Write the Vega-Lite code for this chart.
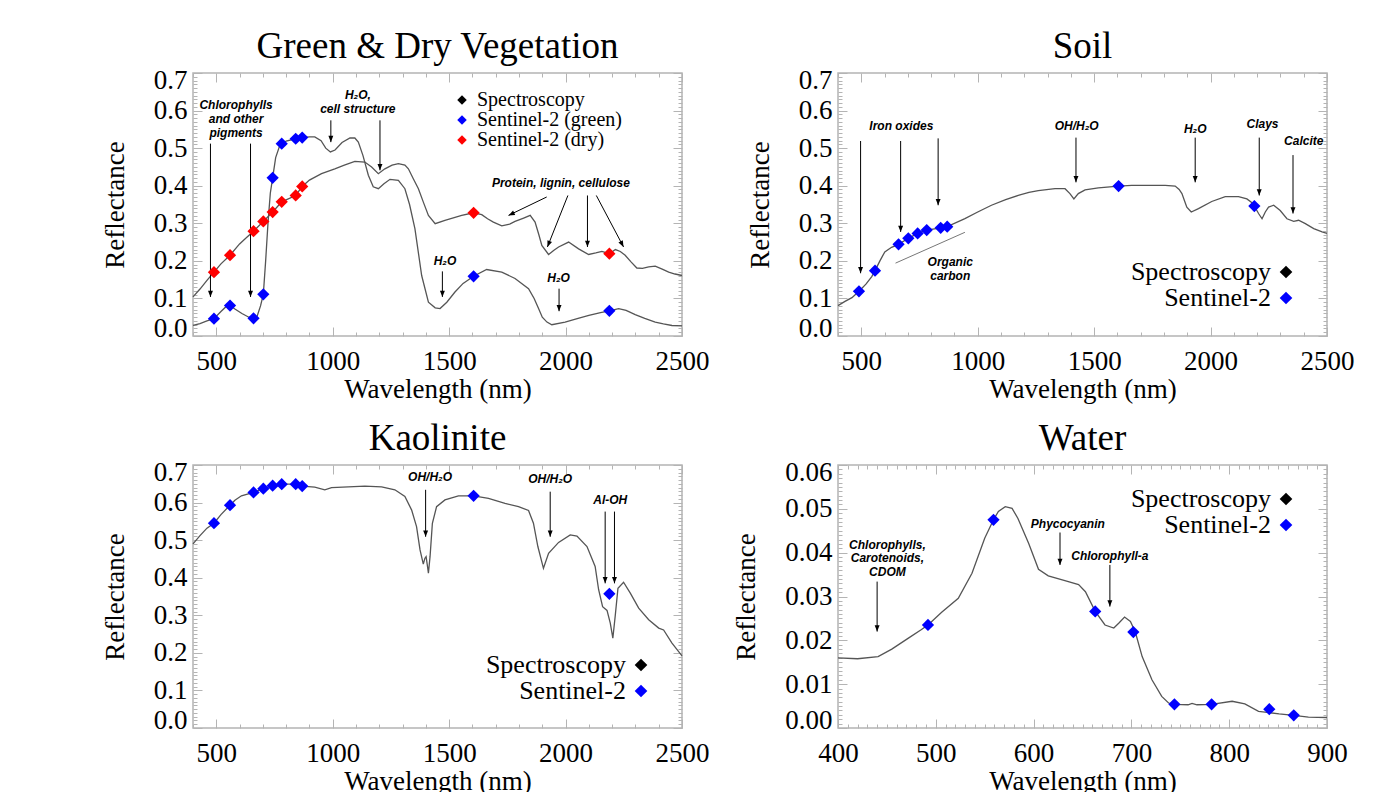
{
"$schema": "https://vega.github.io/schema/vega-lite/v6.json",
"background": "white",
"padding": {"left": 100, "top": 27, "right": 5, "bottom": 5},
"columns": 2,
"spacing": {"row": 129, "column": 156},
"bounds": "flush",
"resolve": {"scale": {"color": "independent", "x": "independent", "y": "independent"}, "legend": {"color": "independent"}},
"config": {
  "font": "Liberation Serif",
  "view": {"stroke": "#b4b4b4", "strokeWidth": 1.5},
  "style": {"guide-label": {"font": "Liberation Serif", "fill": "#000000"}, "guide-title": {"font": "Liberation Serif", "fill": "#000000", "fontWeight": "normal"}},
  "axis": {"domain": false, "grid": false, "labelFont": "Liberation Serif", "labelFontSize": 27, "labelColor": "#000000", "titleFont": "Liberation Serif", "titleFontSize": 27, "titleFontWeight": "normal", "titleColor": "#000000", "tickColor": "#b4b4b4", "tickWidth": 1, "labelOverlap": false, "labelBound": false},
  "title": {"font": "Liberation Serif", "fontSize": 37, "fontWeight": "normal", "color": "#000000", "anchor": "middle", "offset": -3},
  "legend": {"labelFont": "Liberation Serif", "labelColor": "#000000", "symbolType": "diamond", "symbolStrokeWidth": 0, "labelLimit": 400, "padding": 0, "title": null}
},
"datasets": {
  "veg_line": [
    {"wl":400,"r":0.028,"series":"green"},{"wl":430,"r":0.033,"series":"green"},{"wl":460,"r":0.040,"series":"green"},{"wl":490,"r":0.046,"series":"green"},{"wl":520,"r":0.065,"series":"green"},{"wl":545,"r":0.080,"series":"green"},{"wl":559,"r":0.081,"series":"green"},{"wl":580,"r":0.072,"series":"green"},{"wl":610,"r":0.060,"series":"green"},{"wl":640,"r":0.050,"series":"green"},{"wl":660,"r":0.047,"series":"green"},{"wl":675,"r":0.052,"series":"green"},{"wl":690,"r":0.080,"series":"green"},{"wl":702,"r":0.111,"series":"green"},{"wl":712,"r":0.200,"series":"green"},{"wl":722,"r":0.300,"series":"green"},{"wl":732,"r":0.380,"series":"green"},{"wl":742,"r":0.421,"series":"green"},{"wl":755,"r":0.475,"series":"green"},{"wl":770,"r":0.502,"series":"green"},{"wl":781,"r":0.512,"series":"green"},{"wl":800,"r":0.519,"series":"green"},{"wl":841,"r":0.525,"series":"green"},{"wl":869,"r":0.528,"series":"green"},{"wl":900,"r":0.530,"series":"green"},{"wl":923,"r":0.530,"series":"green"},{"wl":950,"r":0.520,"series":"green"},{"wl":970,"r":0.500,"series":"green"},{"wl":990,"r":0.490,"series":"green"},{"wl":1010,"r":0.495,"series":"green"},{"wl":1040,"r":0.515,"series":"green"},{"wl":1074,"r":0.527,"series":"green"},{"wl":1095,"r":0.527,"series":"green"},{"wl":1110,"r":0.516,"series":"green"},{"wl":1130,"r":0.480,"series":"green"},{"wl":1153,"r":0.428,"series":"green"},{"wl":1174,"r":0.397,"series":"green"},{"wl":1196,"r":0.392,"series":"green"},{"wl":1220,"r":0.405,"series":"green"},{"wl":1246,"r":0.417,"series":"green"},{"wl":1282,"r":0.414,"series":"green"},{"wl":1310,"r":0.392,"series":"green"},{"wl":1330,"r":0.350,"series":"green"},{"wl":1353,"r":0.286,"series":"green"},{"wl":1382,"r":0.161,"series":"green"},{"wl":1411,"r":0.090,"series":"green"},{"wl":1440,"r":0.075,"series":"green"},{"wl":1461,"r":0.073,"series":"green"},{"wl":1490,"r":0.090,"series":"green"},{"wl":1525,"r":0.117,"series":"green"},{"wl":1560,"r":0.140,"series":"green"},{"wl":1605,"r":0.159,"series":"green"},{"wl":1661,"r":0.177,"series":"green"},{"wl":1726,"r":0.170,"series":"green"},{"wl":1783,"r":0.153,"series":"green"},{"wl":1841,"r":0.126,"series":"green"},{"wl":1865,"r":0.100,"series":"green"},{"wl":1884,"r":0.073,"series":"green"},{"wl":1900,"r":0.050,"series":"green"},{"wl":1920,"r":0.037,"series":"green"},{"wl":1941,"r":0.030,"series":"green"},{"wl":1998,"r":0.037,"series":"green"},{"wl":2050,"r":0.046,"series":"green"},{"wl":2100,"r":0.055,"series":"green"},{"wl":2150,"r":0.062,"series":"green"},{"wl":2188,"r":0.067,"series":"green"},{"wl":2228,"r":0.073,"series":"green"},{"wl":2260,"r":0.068,"series":"green"},{"wl":2299,"r":0.057,"series":"green"},{"wl":2340,"r":0.047,"series":"green"},{"wl":2385,"r":0.037,"series":"green"},{"wl":2420,"r":0.032,"series":"green"},{"wl":2457,"r":0.028,"series":"green"},{"wl":2500,"r":0.027,"series":"green"},
    {"wl":400,"r":0.104,"series":"dry"},{"wl":430,"r":0.125,"series":"dry"},{"wl":460,"r":0.148,"series":"dry"},{"wl":490,"r":0.170,"series":"dry"},{"wl":520,"r":0.192,"series":"dry"},{"wl":559,"r":0.215,"series":"dry"},{"wl":600,"r":0.245,"series":"dry"},{"wl":630,"r":0.262,"series":"dry"},{"wl":660,"r":0.279,"series":"dry"},{"wl":702,"r":0.305,"series":"dry"},{"wl":742,"r":0.330,"series":"dry"},{"wl":781,"r":0.357,"series":"dry"},{"wl":841,"r":0.374,"series":"dry"},{"wl":869,"r":0.398,"series":"dry"},{"wl":900,"r":0.415,"series":"dry"},{"wl":952,"r":0.432,"series":"dry"},{"wl":1009,"r":0.445,"series":"dry"},{"wl":1050,"r":0.455,"series":"dry"},{"wl":1095,"r":0.465,"series":"dry"},{"wl":1138,"r":0.463,"series":"dry"},{"wl":1167,"r":0.450,"series":"dry"},{"wl":1196,"r":0.432,"series":"dry"},{"wl":1224,"r":0.445,"series":"dry"},{"wl":1255,"r":0.455,"series":"dry"},{"wl":1282,"r":0.459,"series":"dry"},{"wl":1310,"r":0.455,"series":"dry"},{"wl":1325,"r":0.445,"series":"dry"},{"wl":1345,"r":0.420,"series":"dry"},{"wl":1368,"r":0.392,"series":"dry"},{"wl":1390,"r":0.355,"series":"dry"},{"wl":1411,"r":0.321,"series":"dry"},{"wl":1440,"r":0.299,"series":"dry"},{"wl":1482,"r":0.308,"series":"dry"},{"wl":1554,"r":0.321,"series":"dry"},{"wl":1605,"r":0.328,"series":"dry"},{"wl":1640,"r":0.323,"series":"dry"},{"wl":1665,"r":0.312,"series":"dry"},{"wl":1690,"r":0.303,"series":"dry"},{"wl":1726,"r":0.293,"series":"dry"},{"wl":1760,"r":0.298,"series":"dry"},{"wl":1783,"r":0.305,"series":"dry"},{"wl":1820,"r":0.314,"series":"dry"},{"wl":1848,"r":0.321,"series":"dry"},{"wl":1869,"r":0.303,"series":"dry"},{"wl":1885,"r":0.270,"series":"dry"},{"wl":1898,"r":0.241,"series":"dry"},{"wl":1927,"r":0.217,"series":"dry"},{"wl":1950,"r":0.228,"series":"dry"},{"wl":1970,"r":0.237,"series":"dry"},{"wl":2013,"r":0.250,"series":"dry"},{"wl":2056,"r":0.232,"series":"dry"},{"wl":2099,"r":0.217,"series":"dry"},{"wl":2130,"r":0.221,"series":"dry"},{"wl":2156,"r":0.225,"series":"dry"},{"wl":2188,"r":0.219,"series":"dry"},{"wl":2214,"r":0.230,"series":"dry"},{"wl":2235,"r":0.225,"series":"dry"},{"wl":2256,"r":0.215,"series":"dry"},{"wl":2280,"r":0.198,"series":"dry"},{"wl":2306,"r":0.181,"series":"dry"},{"wl":2330,"r":0.180,"series":"dry"},{"wl":2357,"r":0.184,"series":"dry"},{"wl":2385,"r":0.186,"series":"dry"},{"wl":2415,"r":0.178,"series":"dry"},{"wl":2443,"r":0.170,"series":"dry"},{"wl":2470,"r":0.165,"series":"dry"},{"wl":2500,"r":0.161,"series":"dry"}
  ],
  "veg_pts": [
    {"wl":490,"r":0.046,"series":"Sentinel-2 (green)"},{"wl":559,"r":0.081,"series":"Sentinel-2 (green)"},{"wl":660,"r":0.047,"series":"Sentinel-2 (green)"},{"wl":702,"r":0.111,"series":"Sentinel-2 (green)"},{"wl":742,"r":0.421,"series":"Sentinel-2 (green)"},{"wl":781,"r":0.512,"series":"Sentinel-2 (green)"},{"wl":841,"r":0.525,"series":"Sentinel-2 (green)"},{"wl":869,"r":0.528,"series":"Sentinel-2 (green)"},{"wl":1605,"r":0.159,"series":"Sentinel-2 (green)"},{"wl":2188,"r":0.067,"series":"Sentinel-2 (green)"},
    {"wl":490,"r":0.170,"series":"Sentinel-2 (dry)"},{"wl":559,"r":0.215,"series":"Sentinel-2 (dry)"},{"wl":660,"r":0.279,"series":"Sentinel-2 (dry)"},{"wl":702,"r":0.305,"series":"Sentinel-2 (dry)"},{"wl":742,"r":0.330,"series":"Sentinel-2 (dry)"},{"wl":781,"r":0.357,"series":"Sentinel-2 (dry)"},{"wl":841,"r":0.374,"series":"Sentinel-2 (dry)"},{"wl":869,"r":0.398,"series":"Sentinel-2 (dry)"},{"wl":1605,"r":0.328,"series":"Sentinel-2 (dry)"},{"wl":2188,"r":0.219,"series":"Sentinel-2 (dry)"}
  ],
  "veg_arrows": [
    {"x":475,"y":0.512,"x2":475,"y2":0.104},{"x":647,"y":0.512,"x2":647,"y2":0.104},{"x":992,"y":0.574,"x2":992,"y2":0.516},{"x":1203,"y":0.574,"x2":1203,"y2":0.441},{"x":1919,"y":0.370,"x2":1755,"y2":0.321},{"x":2010,"y":0.374,"x2":1922,"y2":0.237},{"x":2094,"y":0.374,"x2":2094,"y2":0.237},{"x":2132,"y":0.374,"x2":2249,"y2":0.237},{"x":1471,"y":0.172,"x2":1471,"y2":0.104},{"x":1972,"y":0.126,"x2":1972,"y2":0.066}
  ],
  "veg_text": [
    {"x":585,"y":0.615,"label":["Chlorophylls","and other","pigments"]},{"x":1108,"y":0.641,"label":["H₂O,","cell structure"]},{"x":1980,"y":0.407,"label":"Protein, lignin, cellulose"},{"x":1482,"y":0.200,"label":"H₂O"},{"x":1970,"y":0.154,"label":"H₂O"}
  ],
  "soil_line": [
    {"wl":400,"r":0.081},{"wl":430,"r":0.092},{"wl":460,"r":0.102},{"wl":490,"r":0.119},{"wl":520,"r":0.138},{"wl":545,"r":0.158},{"wl":559,"r":0.174},{"wl":580,"r":0.200},{"wl":601,"r":0.224},{"wl":630,"r":0.236},{"wl":660,"r":0.244},{"wl":702,"r":0.260},{"wl":742,"r":0.273},{"wl":781,"r":0.282},{"wl":841,"r":0.288},{"wl":869,"r":0.291},{"wl":945,"r":0.3125},{"wl":1000,"r":0.330},{"wl":1059,"r":0.348},{"wl":1120,"r":0.363},{"wl":1174,"r":0.374},{"wl":1220,"r":0.382},{"wl":1260,"r":0.387},{"wl":1332,"r":0.392},{"wl":1375,"r":0.392},{"wl":1396,"r":0.379},{"wl":1413,"r":0.365},{"wl":1432,"r":0.379},{"wl":1461,"r":0.389},{"wl":1518,"r":0.394},{"wl":1605,"r":0.399},{"wl":1661,"r":0.401},{"wl":1750,"r":0.401},{"wl":1805,"r":0.401},{"wl":1848,"r":0.399},{"wl":1865,"r":0.390},{"wl":1877,"r":0.379},{"wl":1888,"r":0.360},{"wl":1898,"r":0.343},{"wl":1917,"r":0.330},{"wl":1948,"r":0.339},{"wl":2005,"r":0.358},{"wl":2063,"r":0.371},{"wl":2120,"r":0.371},{"wl":2156,"r":0.365},{"wl":2175,"r":0.356},{"wl":2188,"r":0.346},{"wl":2206,"r":0.326},{"wl":2221,"r":0.312},{"wl":2235,"r":0.330},{"wl":2249,"r":0.343},{"wl":2271,"r":0.348},{"wl":2299,"r":0.334},{"wl":2328,"r":0.312},{"wl":2357,"r":0.305},{"wl":2378,"r":0.308},{"wl":2407,"r":0.299},{"wl":2443,"r":0.286},{"wl":2479,"r":0.277},{"wl":2500,"r":0.273}
  ],
  "soil_pts": [
    {"wl":490,"r":0.119,"series":"Sentinel-2"},{"wl":559,"r":0.174,"series":"Sentinel-2"},{"wl":660,"r":0.244,"series":"Sentinel-2"},{"wl":702,"r":0.260,"series":"Sentinel-2"},{"wl":742,"r":0.273,"series":"Sentinel-2"},{"wl":781,"r":0.282,"series":"Sentinel-2"},{"wl":841,"r":0.288,"series":"Sentinel-2"},{"wl":869,"r":0.291,"series":"Sentinel-2"},{"wl":1605,"r":0.399,"series":"Sentinel-2"},{"wl":2188,"r":0.346,"series":"Sentinel-2"}
  ],
  "soil_arrows": [
    {"x":497,"y":0.519,"x2":497,"y2":0.167},{"x":669,"y":0.519,"x2":669,"y2":0.277},{"x":830,"y":0.526,"x2":830,"y2":0.348},{"x":1422,"y":0.528,"x2":1422,"y2":0.409},{"x":1934,"y":0.528,"x2":1934,"y2":0.409},{"x":2209,"y":0.528,"x2":2209,"y2":0.374},{"x":2354,"y":0.4815,"x2":2354,"y2":0.326}
  ],
  "soil_rule": [{"x":647,"y":0.194,"x2":945,"y2":0.276}],
  "soil_text": [
    {"x":672,"y":0.559,"label":"Iron oxides"},{"x":882,"y":0.198,"label":["Organic","carbon"]},{"x":1425,"y":0.559,"label":"OH/H₂O"},{"x":1934,"y":0.552,"label":"H₂O"},{"x":2223,"y":0.565,"label":"Clays"},{"x":2400,"y":0.518,"label":"Calcite"}
  ],
  "kao_line": [
    {"wl":400,"r":0.490},{"wl":430,"r":0.512},{"wl":460,"r":0.532},{"wl":490,"r":0.545},{"wl":520,"r":0.568},{"wl":559,"r":0.593},{"wl":580,"r":0.606},{"wl":608,"r":0.618},{"wl":660,"r":0.627},{"wl":702,"r":0.637},{"wl":742,"r":0.645},{"wl":781,"r":0.649},{"wl":841,"r":0.649},{"wl":869,"r":0.644},{"wl":923,"r":0.641},{"wl":966,"r":0.634},{"wl":995,"r":0.640},{"wl":1067,"r":0.642},{"wl":1138,"r":0.644},{"wl":1210,"r":0.642},{"wl":1267,"r":0.634},{"wl":1310,"r":0.616},{"wl":1339,"r":0.580},{"wl":1360,"r":0.536},{"wl":1375,"r":0.474},{"wl":1389,"r":0.436},{"wl":1396,"r":0.452},{"wl":1401,"r":0.456},{"wl":1406,"r":0.435},{"wl":1411,"r":0.412},{"wl":1418,"r":0.456},{"wl":1428,"r":0.545},{"wl":1446,"r":0.589},{"wl":1482,"r":0.607},{"wl":1540,"r":0.618},{"wl":1605,"r":0.618},{"wl":1669,"r":0.611},{"wl":1740,"r":0.598},{"wl":1798,"r":0.589},{"wl":1841,"r":0.579},{"wl":1862,"r":0.545},{"wl":1881,"r":0.483},{"wl":1905,"r":0.425},{"wl":1927,"r":0.465},{"wl":1970,"r":0.494},{"wl":2020,"r":0.514},{"wl":2049,"r":0.511},{"wl":2092,"r":0.483},{"wl":2127,"r":0.430},{"wl":2142,"r":0.368},{"wl":2159,"r":0.323},{"wl":2178,"r":0.313},{"wl":2192,"r":0.279},{"wl":2203,"r":0.239},{"wl":2213,"r":0.297},{"wl":2225,"r":0.372},{"wl":2249,"r":0.388},{"wl":2278,"r":0.359},{"wl":2314,"r":0.319},{"wl":2357,"r":0.288},{"wl":2400,"r":0.266},{"wl":2421,"r":0.261},{"wl":2457,"r":0.226},{"wl":2500,"r":0.192}
  ],
  "kao_pts": [
    {"wl":490,"r":0.545,"series":"Sentinel-2"},{"wl":559,"r":0.593,"series":"Sentinel-2"},{"wl":660,"r":0.627,"series":"Sentinel-2"},{"wl":702,"r":0.637,"series":"Sentinel-2"},{"wl":742,"r":0.645,"series":"Sentinel-2"},{"wl":781,"r":0.649,"series":"Sentinel-2"},{"wl":841,"r":0.649,"series":"Sentinel-2"},{"wl":869,"r":0.644,"series":"Sentinel-2"},{"wl":1605,"r":0.618,"series":"Sentinel-2"},{"wl":2188,"r":0.357,"series":"Sentinel-2"}
  ],
  "kao_arrows": [
    {"x":1399,"y":0.634,"x2":1399,"y2":0.509},{"x":1934,"y":0.629,"x2":1934,"y2":0.509},{"x":2170,"y":0.576,"x2":2170,"y2":0.385},{"x":2210,"y":0.576,"x2":2210,"y2":0.385}
  ],
  "kao_text": [
    {"x":1418,"y":0.667,"label":"OH/H₂O"},{"x":1934,"y":0.662,"label":"OH/H₂O"},{"x":2192,"y":0.607,"label":"Al-OH"}
  ],
  "wat_line": [
    {"wl":400,"r":0.0160},{"wl":420,"r":0.0158},{"wl":441,"r":0.0163},{"wl":455,"r":0.0180},{"wl":472,"r":0.0205},{"wl":485,"r":0.0224},{"wl":492,"r":0.0235},{"wl":506,"r":0.0264},{"wl":523,"r":0.0296},{"wl":537,"r":0.0353},{"wl":550,"r":0.0433},{"wl":559,"r":0.0475},{"wl":564,"r":0.0494},{"wl":571,"r":0.0505},{"wl":578,"r":0.0501},{"wl":584,"r":0.0478},{"wl":595,"r":0.0421},{"wl":605,"r":0.0362},{"wl":615,"r":0.0347},{"wl":632,"r":0.0336},{"wl":646,"r":0.0327},{"wl":653,"r":0.0311},{"wl":663,"r":0.0266},{"wl":673,"r":0.0235},{"wl":682,"r":0.0228},{"wl":687,"r":0.0239},{"wl":693,"r":0.0253},{"wl":699,"r":0.0243},{"wl":704,"r":0.0219},{"wl":711,"r":0.0163},{"wl":721,"r":0.0110},{"wl":731,"r":0.0072},{"wl":738,"r":0.0057},{"wl":745,"r":0.0054},{"wl":758,"r":0.0053},{"wl":762,"r":0.0056},{"wl":767,"r":0.0053},{"wl":782,"r":0.0054},{"wl":803,"r":0.0061},{"wl":816,"r":0.0055},{"wl":830,"r":0.0038},{"wl":841,"r":0.0035},{"wl":851,"r":0.0032},{"wl":866,"r":0.0029},{"wl":881,"r":0.0025},{"wl":900,"r":0.0024}
  ],
  "wat_pts": [
    {"wl":492,"r":0.0235,"series":"Sentinel-2"},{"wl":559,"r":0.0475,"series":"Sentinel-2"},{"wl":663,"r":0.0266,"series":"Sentinel-2"},{"wl":702,"r":0.0219,"series":"Sentinel-2"},{"wl":744,"r":0.0054,"series":"Sentinel-2"},{"wl":782,"r":0.0054,"series":"Sentinel-2"},{"wl":841,"r":0.0043,"series":"Sentinel-2"},{"wl":866,"r":0.0029,"series":"Sentinel-2"}
  ],
  "wat_arrows": [
    {"x":440,"y":0.0334,"x2":440,"y2":0.0220},{"x":627,"y":0.0446,"x2":627,"y2":0.0372},{"x":678,"y":0.0372,"x2":678,"y2":0.0277}
  ],
  "wat_text": [
    {"x":450.5,"y":0.0418,"label":["Chlorophylls,","Carotenoids,","CDOM"]},{"x":635,"y":0.0466,"label":"Phycocyanin"},{"x":678,"y":0.0393,"label":"Chlorophyll-a"}
  ]
},
"concat": [
{
  "title": {"text": "Green & Dry Vegetation"},
  "width": 489, "height": 263,
  "resolve": {"axis": {"x": "independent", "y": "independent"}},
  "layer": [
    {"data": {"name": "veg_line"}, "mark": {"type": "line", "color": "#555555", "strokeWidth": 1.3},
     "encoding": {
       "x": {"field": "wl", "type": "quantitative", "scale": {"domain": [400, 2500], "nice": false, "zero": false},
             "axis": {"orient": "bottom", "title": "Wavelength (nm)", "labelFont": "Liberation Serif", "titleFont": "Liberation Serif", "labelFontSize": 27, "titleFontSize": 27, "values": [400,500,600,700,800,900,1000,1100,1200,1300,1400,1500,1600,1700,1800,1900,2000,2100,2200,2300,2400,2500], "format": "d", "labelExpr": "datum.value % 500 === 0 ? datum.label : ''", "tickSize": {"condition": {"test": "datum.value % 500 === 0", "value": -9}, "value": -4}, "labelPadding": 21, "titlePadding": -3, "labelFlush": false}},
       "y": {"field": "r", "type": "quantitative", "scale": {"domain": [0, 0.7], "nice": false, "zero": false},
             "axis": {"orient": "left", "title": "Reflectance", "labelFont": "Liberation Serif", "titleFont": "Liberation Serif", "labelFontSize": 27, "titleFontSize": 27, "values": [0,0.01,0.02,0.03,0.04,0.05,0.06,0.07,0.08,0.09,0.1,0.11,0.12,0.13,0.14,0.15,0.16,0.17,0.18,0.19,0.2,0.21,0.22,0.23,0.24,0.25,0.26,0.27,0.28,0.29,0.3,0.31,0.32,0.33,0.34,0.35,0.36,0.37,0.38,0.39,0.4,0.41,0.42,0.43,0.44,0.45,0.46,0.47,0.48,0.49,0.5,0.51,0.52,0.53,0.54,0.55,0.56,0.57,0.58,0.59,0.6,0.61,0.62,0.63,0.64,0.65,0.66,0.67,0.68,0.69,0.7], "format": ".1f", "labelExpr": "abs(datum.value*10 - round(datum.value*10)) < 0.001 ? datum.label : ''", "tickSize": {"condition": {"test": "abs(datum.value*10 - round(datum.value*10)) < 0.001", "value": -9}, "value": -4}, "labelPadding": 15, "labelFlush": true, "labelFlushOffset": 6, "titlePadding": 24}},
       "detail": {"field": "series"}
     }},
    {"data": {"name": "veg_line"}, "mark": {"type": "point", "opacity": 0},
     "encoding": {
       "x": {"field": "wl", "type": "quantitative", "axis": {"orient": "top", "title": null, "labels": false, "values": [400,500,600,700,800,900,1000,1100,1200,1300,1400,1500,1600,1700,1800,1900,2000,2100,2200,2300,2400,2500], "tickSize": {"condition": {"test": "datum.value % 500 === 0", "value": -9}, "value": -4}}},
       "y": {"field": "r", "type": "quantitative", "axis": {"orient": "right", "title": null, "labels": false, "values": [0,0.01,0.02,0.03,0.04,0.05,0.06,0.07,0.08,0.09,0.1,0.11,0.12,0.13,0.14,0.15,0.16,0.17,0.18,0.19,0.2,0.21,0.22,0.23,0.24,0.25,0.26,0.27,0.28,0.29,0.3,0.31,0.32,0.33,0.34,0.35,0.36,0.37,0.38,0.39,0.4,0.41,0.42,0.43,0.44,0.45,0.46,0.47,0.48,0.49,0.5,0.51,0.52,0.53,0.54,0.55,0.56,0.57,0.58,0.59,0.6,0.61,0.62,0.63,0.64,0.65,0.66,0.67,0.68,0.69,0.7], "tickSize": {"condition": {"test": "abs(datum.value*10 - round(datum.value*10)) < 0.001", "value": -9}, "value": -4}}}
     }},
    {"data": {"name": "veg_arrows"}, "mark": {"type": "rule", "color": "#000000", "strokeWidth": 1},
     "encoding": {"x": {"field": "x", "type": "quantitative", "axis": null}, "y": {"field": "y", "type": "quantitative", "axis": null}, "x2": {"field": "x2"}, "y2": {"field": "y2"}}},
    {"data": {"name": "veg_arrows"}, "transform": [{"calculate": "atan2((datum.x2-datum.x)*0.2329, (datum.y2-datum.y)*375.7)*180/PI", "as": "ang"}],
     "mark": {"type": "point", "shape": "M0,0L-0.55,1.4L0.55,1.4Z", "filled": true, "color": "#000000", "size": 80, "opacity": 1},
     "encoding": {"x": {"field": "x2", "type": "quantitative", "axis": null}, "y": {"field": "y2", "type": "quantitative", "axis": null}, "angle": {"field": "ang", "type": "quantitative", "scale": null}}},
    {"data": {"name": "veg_text"}, "mark": {"type": "text", "font": "Liberation Sans", "fontSize": 12, "fontWeight": "bold", "fontStyle": "italic", "lineHeight": 14, "baseline": "middle", "align": "center", "color": "#000000"},
     "encoding": {"x": {"field": "x", "type": "quantitative", "axis": null}, "y": {"field": "y", "type": "quantitative", "axis": null}, "text": {"field": "label"}}},
    {"data": {"name": "veg_pts"}, "mark": {"type": "point", "shape": "diamond", "filled": true, "size": 150, "opacity": 1},
     "encoding": {"x": {"field": "wl", "type": "quantitative", "axis": null}, "y": {"field": "r", "type": "quantitative", "axis": null},
       "color": {"field": "series", "type": "nominal", "scale": {"domain": ["Spectroscopy", "Sentinel-2 (green)", "Sentinel-2 (dry)"], "range": ["#000000", "#0000ff", "#ff0000"]},
                 "legend": {"orient": "none", "legendX": 259, "legendY": 17, "symbolSize": 90, "labelFont": "Liberation Serif", "labelFontSize": 20, "labelOffset": 5, "rowPadding": 0, "symbolType": "diamond"}}}}
  ]
},
{
  "title": {"text": "Soil"},
  "width": 489, "height": 263,
  "resolve": {"axis": {"x": "independent", "y": "independent"}},
  "layer": [
    {"data": {"name": "soil_line"}, "mark": {"type": "line", "color": "#555555", "strokeWidth": 1.3},
     "encoding": {
       "x": {"field": "wl", "type": "quantitative", "scale": {"domain": [400, 2500], "nice": false, "zero": false},
             "axis": {"orient": "bottom", "title": "Wavelength (nm)", "labelFont": "Liberation Serif", "titleFont": "Liberation Serif", "labelFontSize": 27, "titleFontSize": 27, "values": [400,500,600,700,800,900,1000,1100,1200,1300,1400,1500,1600,1700,1800,1900,2000,2100,2200,2300,2400,2500], "format": "d", "labelExpr": "datum.value % 500 === 0 ? datum.label : ''", "tickSize": {"condition": {"test": "datum.value % 500 === 0", "value": -9}, "value": -4}, "labelPadding": 21, "titlePadding": -3, "labelFlush": false}},
       "y": {"field": "r", "type": "quantitative", "scale": {"domain": [0, 0.7], "nice": false, "zero": false},
             "axis": {"orient": "left", "title": "Reflectance", "labelFont": "Liberation Serif", "titleFont": "Liberation Serif", "labelFontSize": 27, "titleFontSize": 27, "values": [0,0.01,0.02,0.03,0.04,0.05,0.06,0.07,0.08,0.09,0.1,0.11,0.12,0.13,0.14,0.15,0.16,0.17,0.18,0.19,0.2,0.21,0.22,0.23,0.24,0.25,0.26,0.27,0.28,0.29,0.3,0.31,0.32,0.33,0.34,0.35,0.36,0.37,0.38,0.39,0.4,0.41,0.42,0.43,0.44,0.45,0.46,0.47,0.48,0.49,0.5,0.51,0.52,0.53,0.54,0.55,0.56,0.57,0.58,0.59,0.6,0.61,0.62,0.63,0.64,0.65,0.66,0.67,0.68,0.69,0.7], "format": ".1f", "labelExpr": "abs(datum.value*10 - round(datum.value*10)) < 0.001 ? datum.label : ''", "tickSize": {"condition": {"test": "abs(datum.value*10 - round(datum.value*10)) < 0.001", "value": -9}, "value": -4}, "labelPadding": 15, "labelFlush": true, "labelFlushOffset": 6, "titlePadding": 24}}
     }},
    {"data": {"name": "soil_line"}, "mark": {"type": "point", "opacity": 0},
     "encoding": {
       "x": {"field": "wl", "type": "quantitative", "axis": {"orient": "top", "title": null, "labels": false, "values": [400,500,600,700,800,900,1000,1100,1200,1300,1400,1500,1600,1700,1800,1900,2000,2100,2200,2300,2400,2500], "tickSize": {"condition": {"test": "datum.value % 500 === 0", "value": -9}, "value": -4}}},
       "y": {"field": "r", "type": "quantitative", "axis": {"orient": "right", "title": null, "labels": false, "values": [0,0.01,0.02,0.03,0.04,0.05,0.06,0.07,0.08,0.09,0.1,0.11,0.12,0.13,0.14,0.15,0.16,0.17,0.18,0.19,0.2,0.21,0.22,0.23,0.24,0.25,0.26,0.27,0.28,0.29,0.3,0.31,0.32,0.33,0.34,0.35,0.36,0.37,0.38,0.39,0.4,0.41,0.42,0.43,0.44,0.45,0.46,0.47,0.48,0.49,0.5,0.51,0.52,0.53,0.54,0.55,0.56,0.57,0.58,0.59,0.6,0.61,0.62,0.63,0.64,0.65,0.66,0.67,0.68,0.69,0.7], "tickSize": {"condition": {"test": "abs(datum.value*10 - round(datum.value*10)) < 0.001", "value": -9}, "value": -4}}}
     }},
    {"data": {"name": "soil_rule"}, "mark": {"type": "rule", "color": "#777777", "strokeWidth": 1},
     "encoding": {"x": {"field": "x", "type": "quantitative", "axis": null}, "y": {"field": "y", "type": "quantitative", "axis": null}, "x2": {"field": "x2"}, "y2": {"field": "y2"}}},
    {"data": {"name": "soil_arrows"}, "mark": {"type": "rule", "color": "#000000", "strokeWidth": 1},
     "encoding": {"x": {"field": "x", "type": "quantitative", "axis": null}, "y": {"field": "y", "type": "quantitative", "axis": null}, "x2": {"field": "x2"}, "y2": {"field": "y2"}}},
    {"data": {"name": "soil_arrows"},
     "mark": {"type": "point", "shape": "M0,0L-0.55,1.4L0.55,1.4Z", "filled": true, "color": "#000000", "size": 80, "opacity": 1, "angle": 180},
     "encoding": {"x": {"field": "x2", "type": "quantitative", "axis": null}, "y": {"field": "y2", "type": "quantitative", "axis": null}}},
    {"data": {"name": "soil_text"}, "mark": {"type": "text", "font": "Liberation Sans", "fontSize": 12, "fontWeight": "bold", "fontStyle": "italic", "lineHeight": 14, "baseline": "middle", "align": "center", "color": "#000000"},
     "encoding": {"x": {"field": "x", "type": "quantitative", "axis": null}, "y": {"field": "y", "type": "quantitative", "axis": null}, "text": {"field": "label"}}},
    {"data": {"name": "soil_pts"}, "mark": {"type": "point", "shape": "diamond", "filled": true, "size": 150, "opacity": 1},
     "encoding": {"x": {"field": "wl", "type": "quantitative", "axis": null}, "y": {"field": "r", "type": "quantitative", "axis": null},
       "color": {"field": "series", "type": "nominal", "scale": {"domain": ["Spectroscopy", "Sentinel-2"], "range": ["#000000", "#0000ff"]},
                 "legend": {"orient": "none", "legendX": 435, "legendY": 186, "symbolSize": 160, "labelFont": "Liberation Serif", "labelFontSize": 26, "labelAlign": "right", "labelOffset": -28, "rowPadding": 0, "symbolType": "diamond"}}}}
  ]
},
{
  "title": {"text": "Kaolinite"},
  "width": 489, "height": 263,
  "resolve": {"axis": {"x": "independent", "y": "independent"}},
  "layer": [
    {"data": {"name": "kao_line"}, "mark": {"type": "line", "color": "#555555", "strokeWidth": 1.3},
     "encoding": {
       "x": {"field": "wl", "type": "quantitative", "scale": {"domain": [400, 2500], "nice": false, "zero": false},
             "axis": {"orient": "bottom", "title": "Wavelength (nm)", "labelFont": "Liberation Serif", "titleFont": "Liberation Serif", "labelFontSize": 27, "titleFontSize": 27, "values": [400,500,600,700,800,900,1000,1100,1200,1300,1400,1500,1600,1700,1800,1900,2000,2100,2200,2300,2400,2500], "format": "d", "labelExpr": "datum.value % 500 === 0 ? datum.label : ''", "tickSize": {"condition": {"test": "datum.value % 500 === 0", "value": -9}, "value": -4}, "labelPadding": 21, "titlePadding": -3, "labelFlush": false}},
       "y": {"field": "r", "type": "quantitative", "scale": {"domain": [0, 0.7], "nice": false, "zero": false},
             "axis": {"orient": "left", "title": "Reflectance", "labelFont": "Liberation Serif", "titleFont": "Liberation Serif", "labelFontSize": 27, "titleFontSize": 27, "values": [0,0.01,0.02,0.03,0.04,0.05,0.06,0.07,0.08,0.09,0.1,0.11,0.12,0.13,0.14,0.15,0.16,0.17,0.18,0.19,0.2,0.21,0.22,0.23,0.24,0.25,0.26,0.27,0.28,0.29,0.3,0.31,0.32,0.33,0.34,0.35,0.36,0.37,0.38,0.39,0.4,0.41,0.42,0.43,0.44,0.45,0.46,0.47,0.48,0.49,0.5,0.51,0.52,0.53,0.54,0.55,0.56,0.57,0.58,0.59,0.6,0.61,0.62,0.63,0.64,0.65,0.66,0.67,0.68,0.69,0.7], "format": ".1f", "labelExpr": "abs(datum.value*10 - round(datum.value*10)) < 0.001 ? datum.label : ''", "tickSize": {"condition": {"test": "abs(datum.value*10 - round(datum.value*10)) < 0.001", "value": -9}, "value": -4}, "labelPadding": 15, "labelFlush": true, "labelFlushOffset": 6, "titlePadding": 24}}
     }},
    {"data": {"name": "kao_line"}, "mark": {"type": "point", "opacity": 0},
     "encoding": {
       "x": {"field": "wl", "type": "quantitative", "axis": {"orient": "top", "title": null, "labels": false, "values": [400,500,600,700,800,900,1000,1100,1200,1300,1400,1500,1600,1700,1800,1900,2000,2100,2200,2300,2400,2500], "tickSize": {"condition": {"test": "datum.value % 500 === 0", "value": -9}, "value": -4}}},
       "y": {"field": "r", "type": "quantitative", "axis": {"orient": "right", "title": null, "labels": false, "values": [0,0.01,0.02,0.03,0.04,0.05,0.06,0.07,0.08,0.09,0.1,0.11,0.12,0.13,0.14,0.15,0.16,0.17,0.18,0.19,0.2,0.21,0.22,0.23,0.24,0.25,0.26,0.27,0.28,0.29,0.3,0.31,0.32,0.33,0.34,0.35,0.36,0.37,0.38,0.39,0.4,0.41,0.42,0.43,0.44,0.45,0.46,0.47,0.48,0.49,0.5,0.51,0.52,0.53,0.54,0.55,0.56,0.57,0.58,0.59,0.6,0.61,0.62,0.63,0.64,0.65,0.66,0.67,0.68,0.69,0.7], "tickSize": {"condition": {"test": "abs(datum.value*10 - round(datum.value*10)) < 0.001", "value": -9}, "value": -4}}}
     }},
    {"data": {"name": "kao_arrows"}, "mark": {"type": "rule", "color": "#000000", "strokeWidth": 1},
     "encoding": {"x": {"field": "x", "type": "quantitative", "axis": null}, "y": {"field": "y", "type": "quantitative", "axis": null}, "x2": {"field": "x2"}, "y2": {"field": "y2"}}},
    {"data": {"name": "kao_arrows"},
     "mark": {"type": "point", "shape": "M0,0L-0.55,1.4L0.55,1.4Z", "filled": true, "color": "#000000", "size": 80, "opacity": 1, "angle": 180},
     "encoding": {"x": {"field": "x2", "type": "quantitative", "axis": null}, "y": {"field": "y2", "type": "quantitative", "axis": null}}},
    {"data": {"name": "kao_text"}, "mark": {"type": "text", "font": "Liberation Sans", "fontSize": 12, "fontWeight": "bold", "fontStyle": "italic", "lineHeight": 14, "baseline": "middle", "align": "center", "color": "#000000"},
     "encoding": {"x": {"field": "x", "type": "quantitative", "axis": null}, "y": {"field": "y", "type": "quantitative", "axis": null}, "text": {"field": "label"}}},
    {"data": {"name": "kao_pts"}, "mark": {"type": "point", "shape": "diamond", "filled": true, "size": 150, "opacity": 1},
     "encoding": {"x": {"field": "wl", "type": "quantitative", "axis": null}, "y": {"field": "r", "type": "quantitative", "axis": null},
       "color": {"field": "series", "type": "nominal", "scale": {"domain": ["Spectroscopy", "Sentinel-2"], "range": ["#000000", "#0000ff"]},
                 "legend": {"orient": "none", "legendX": 435, "legendY": 187, "symbolSize": 160, "labelFont": "Liberation Serif", "labelFontSize": 26, "labelAlign": "right", "labelOffset": -28, "rowPadding": 0, "symbolType": "diamond"}}}}
  ]
},
{
  "title": {"text": "Water"},
  "width": 489, "height": 263,
  "resolve": {"axis": {"x": "independent", "y": "independent"}},
  "layer": [
    {"data": {"name": "wat_line"}, "mark": {"type": "line", "color": "#555555", "strokeWidth": 1.3},
     "encoding": {
       "x": {"field": "wl", "type": "quantitative", "scale": {"domain": [400, 900], "nice": false, "zero": false},
             "axis": {"orient": "bottom", "title": "Wavelength (nm)", "labelFont": "Liberation Serif", "titleFont": "Liberation Serif", "labelFontSize": 27, "titleFontSize": 27, "values": [400,410,420,430,440,450,460,470,480,490,500,510,520,530,540,550,560,570,580,590,600,610,620,630,640,650,660,670,680,690,700,710,720,730,740,750,760,770,780,790,800,810,820,830,840,850,860,870,880,890,900], "format": "d", "labelExpr": "datum.value % 100 === 0 ? datum.label : ''", "tickSize": {"condition": {"test": "datum.value % 100 === 0", "value": -9}, "value": -4}, "labelPadding": 21, "titlePadding": -3, "labelFlush": false}},
       "y": {"field": "r", "type": "quantitative", "scale": {"domain": [0, 0.06], "nice": false, "zero": false},
             "axis": {"orient": "left", "title": "Reflectance", "labelFont": "Liberation Serif", "titleFont": "Liberation Serif", "labelFontSize": 27, "titleFontSize": 27, "values": [0,0.001,0.002,0.003,0.004,0.005,0.006,0.007,0.008,0.009,0.01,0.011,0.012,0.013,0.014,0.015,0.016,0.017,0.018,0.019,0.02,0.021,0.022,0.023,0.024,0.025,0.026,0.027,0.028,0.029,0.03,0.031,0.032,0.033,0.034,0.035,0.036,0.037,0.038,0.039,0.04,0.041,0.042,0.043,0.044,0.045,0.046,0.047,0.048,0.049,0.05,0.051,0.052,0.053,0.054,0.055,0.056,0.057,0.058,0.059,0.06], "format": ".2f", "labelExpr": "abs(datum.value*100 - round(datum.value*100)) < 0.001 ? datum.label : ''", "tickSize": {"condition": {"test": "abs(datum.value*100 - round(datum.value*100)) < 0.001", "value": -9}, "value": -4}, "labelPadding": 15, "labelFlush": true, "labelFlushOffset": 6, "titlePadding": 24}}
     }},
    {"data": {"name": "wat_line"}, "mark": {"type": "point", "opacity": 0},
     "encoding": {
       "x": {"field": "wl", "type": "quantitative", "axis": {"orient": "top", "title": null, "labels": false, "values": [400,410,420,430,440,450,460,470,480,490,500,510,520,530,540,550,560,570,580,590,600,610,620,630,640,650,660,670,680,690,700,710,720,730,740,750,760,770,780,790,800,810,820,830,840,850,860,870,880,890,900], "tickSize": {"condition": {"test": "datum.value % 100 === 0", "value": -9}, "value": -4}}},
       "y": {"field": "r", "type": "quantitative", "axis": {"orient": "right", "title": null, "labels": false, "values": [0,0.001,0.002,0.003,0.004,0.005,0.006,0.007,0.008,0.009,0.01,0.011,0.012,0.013,0.014,0.015,0.016,0.017,0.018,0.019,0.02,0.021,0.022,0.023,0.024,0.025,0.026,0.027,0.028,0.029,0.03,0.031,0.032,0.033,0.034,0.035,0.036,0.037,0.038,0.039,0.04,0.041,0.042,0.043,0.044,0.045,0.046,0.047,0.048,0.049,0.05,0.051,0.052,0.053,0.054,0.055,0.056,0.057,0.058,0.059,0.06], "tickSize": {"condition": {"test": "abs(datum.value*100 - round(datum.value*100)) < 0.001", "value": -9}, "value": -4}}}
     }},
    {"data": {"name": "wat_arrows"}, "mark": {"type": "rule", "color": "#000000", "strokeWidth": 1},
     "encoding": {"x": {"field": "x", "type": "quantitative", "axis": null}, "y": {"field": "y", "type": "quantitative", "axis": null}, "x2": {"field": "x2"}, "y2": {"field": "y2"}}},
    {"data": {"name": "wat_arrows"},
     "mark": {"type": "point", "shape": "M0,0L-0.55,1.4L0.55,1.4Z", "filled": true, "color": "#000000", "size": 80, "opacity": 1, "angle": 180},
     "encoding": {"x": {"field": "x2", "type": "quantitative", "axis": null}, "y": {"field": "y2", "type": "quantitative", "axis": null}}},
    {"data": {"name": "wat_text"}, "mark": {"type": "text", "font": "Liberation Sans", "fontSize": 12, "fontWeight": "bold", "fontStyle": "italic", "lineHeight": 13.5, "baseline": "middle", "align": "center", "color": "#000000"},
     "encoding": {"x": {"field": "x", "type": "quantitative", "axis": null}, "y": {"field": "y", "type": "quantitative", "axis": null}, "text": {"field": "label"}}},
    {"data": {"name": "wat_pts"}, "mark": {"type": "point", "shape": "diamond", "filled": true, "size": 150, "opacity": 1},
     "encoding": {"x": {"field": "wl", "type": "quantitative", "axis": null}, "y": {"field": "r", "type": "quantitative", "axis": null},
       "color": {"field": "series", "type": "nominal", "scale": {"domain": ["Spectroscopy", "Sentinel-2"], "range": ["#000000", "#0000ff"]},
                 "legend": {"orient": "none", "legendX": 435, "legendY": 21, "symbolSize": 160, "labelFont": "Liberation Serif", "labelFontSize": 26, "labelAlign": "right", "labelOffset": -28, "rowPadding": 0, "symbolType": "diamond"}}}}
  ]
}
]
}
